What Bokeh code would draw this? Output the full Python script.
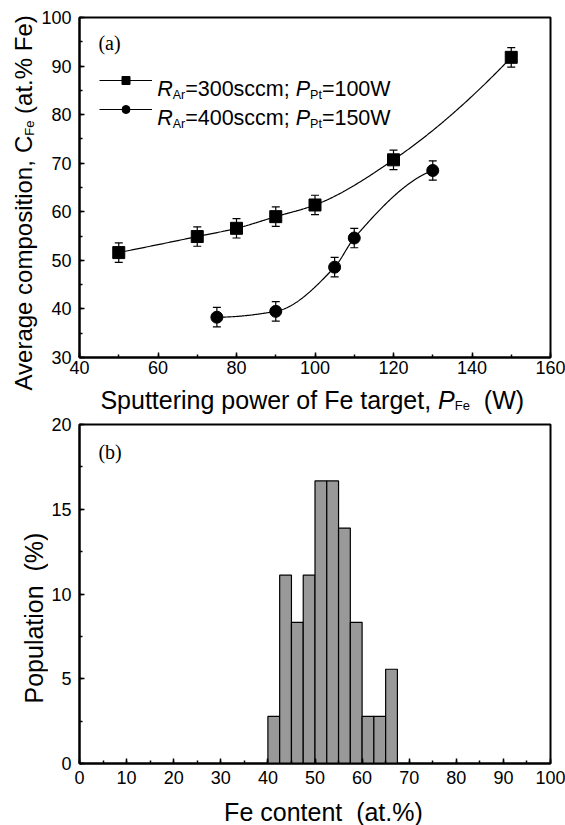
import numpy as np
from bokeh.plotting import figure
from bokeh.models import (ColumnDataSource, Whisker, Label, Legend, LegendItem,
                          TeeHead, Range1d, FixedTicker)
from bokeh.layouts import column, row
from bokeh.embed import file_html
from bokeh.resources import INLINE

# ---------------- data: panel (a) ----------------
power_a = [50, 70, 80, 90, 100, 120, 150]
comp_a = [51.6, 54.9, 56.6, 59.0, 61.4, 70.7, 91.8]
err_a = [2.0, 2.0, 2.0, 2.0, 2.0, 2.0, 2.0]

power_b = [75, 90, 105, 110, 130]
comp_b = [38.3, 39.5, 48.6, 54.6, 68.5]
err_b = [2.0, 2.0, 2.0, 2.0, 2.0]

xticks_a = [40, 60, 80, 100, 120, 140, 160]
yticks_a = [30, 40, 50, 60, 70, 80, 90, 100]

# ---------------- data: panel (b) ----------------
bin_edges = [40, 42.5, 45, 47.5, 50, 52.5, 55, 57.5, 60, 62.5, 65, 67.5]
population = [2.78, 11.11, 8.33, 11.11, 16.67, 16.67, 13.89, 8.33, 2.78, 2.78, 5.56]

xticks_b = [0, 10, 20, 30, 40, 50, 60, 70, 80, 90, 100]
yticks_b = [0, 5, 10, 15, 20]

SANS = "Liberation Sans"
SERIF = "Liberation Serif"

W_ARIAL = {' ': 278, '\u00a0': 278, '(': 333, ')': 333, '%': 889, '.': 278, ',': 278,
           ';': 278, '=': 584, 'A': 667, 'C': 722, 'F': 611, 'P': 667, 'R': 722,
           'S': 667, 'W': 944, 'a': 556, 'c': 500, 'e': 556, 'f': 278, 'g': 556,
           'i': 222, 'l': 222, 'm': 833, 'n': 556, 'o': 556, 'p': 556, 'r': 333,
           's': 500, 't': 278, 'u': 556, 'v': 500, 'w': 722}


def text_width(s, size):
    return sum(W_ARIAL.get(c, 556) for c in s) * size / 1000.0


def pchip(x, y, n=300):
    x = np.asarray(x, float)
    y = np.asarray(y, float)
    h = np.diff(x)
    d = np.diff(y) / h
    m = np.zeros_like(y)
    for k in range(1, len(x) - 1):
        if d[k - 1] * d[k] > 0:
            w1 = 2 * h[k] + h[k - 1]
            w2 = h[k] + 2 * h[k - 1]
            m[k] = (w1 + w2) / (w1 / d[k - 1] + w2 / d[k])

    def end(h0, h1, d0, d1):
        mm = ((2 * h0 + h1) * d0 - h0 * d1) / (h0 + h1)
        if np.sign(mm) != np.sign(d0):
            mm = 0.0
        elif np.sign(d0) != np.sign(d1) and abs(mm) > abs(3 * d0):
            mm = 3 * d0
        return mm

    m[0] = end(h[0], h[1], d[0], d[1])
    m[-1] = end(h[-1], h[-2], d[-1], d[-2])
    xs = np.linspace(x[0], x[-1], n)
    idx = np.clip(np.searchsorted(x, xs) - 1, 0, len(h) - 1)
    t = (xs - x[idx]) / h[idx]
    h00 = 2 * t**3 - 3 * t**2 + 1
    h10 = t**3 - 2 * t**2 + t
    h01 = -2 * t**3 + 3 * t**2
    h11 = t**3 - t**2
    ys = h00 * y[idx] + h10 * h[idx] * m[idx] + h01 * y[idx + 1] + h11 * h[idx] * m[idx + 1]
    return xs, ys


def style_axes(p, standoff_x, standoff_y):
    p.grid.visible = False
    p.outline_line_color = "black"
    p.outline_line_width = 2
    p.background_fill_color = "white"
    p.border_fill_color = "white"
    for ax in (p.xaxis[0], p.yaxis[0]):
        ax.axis_line_width = 2
        ax.axis_line_color = "black"
        ax.major_tick_in = 5
        ax.major_tick_out = 0
        ax.minor_tick_in = 3
        ax.minor_tick_out = 0
        ax.major_tick_line_width = 1.5
        ax.minor_tick_line_width = 1.5
        ax.major_tick_line_color = "black"
        ax.minor_tick_line_color = "black"
        ax.major_label_text_font = SANS
        ax.major_label_text_font_size = "18px"
        ax.major_label_text_color = "black"
        ax.axis_label = None
    p.xaxis[0].major_label_standoff = standoff_x
    p.yaxis[0].major_label_standoff = standoff_y


def text_fig(w, h, xr=None, bl=0, br=0):
    f = figure(width=w, height=h, output_backend="svg", toolbar_location=None,
               title=None,
               x_range=Range1d(*(xr if xr else (0, w))), y_range=Range1d(0, h),
               x_axis_location=None, y_axis_location=None, min_border=0,
               min_border_left=bl, min_border_right=br,
               min_border_top=0, min_border_bottom=0)
    f.grid.visible = False
    f.outline_line_color = None
    f.background_fill_color = "white"
    f.border_fill_color = "white"
    return f


def add_text(p, x, y, text, size, italic=False, angle=0.0, xo=0.0, yo=0.0,
             font=SANS, align="left"):
    p.add_layout(Label(x=x, y=y, text=text, text_font=font,
                       text_font_size=f"{size}px",
                       text_font_style="italic" if italic else "normal",
                       angle=angle, x_offset=xo, y_offset=yo,
                       text_align=align, text_baseline="alphabetic",
                       text_color="black"))


def rich_h(p, x, y, pieces):
    off = 0.0
    for txt, size, italic, drop in pieces:
        add_text(p, x, y, txt, size, italic, xo=off, yo=-drop)
        off += text_width(txt, size)


def rich_v(p, x, y, pieces):
    off = 0.0
    for txt, size, italic, drop in pieces:
        add_text(p, x, y, txt, size, italic, angle=np.pi / 2, xo=drop, yo=off)
        off += text_width(txt, size)


# page geometry (px, page origin = canvas origin)
W_PAGE, H_PAGE = 565, 825
FL, FR = 77, 550
T1, B1 = 17, 357
T2, B2 = 424, 763
TOP_H = 414            # height of the upper block

# ================= panel (a) =================
A_W = 38
P1X, P1W, P1H = A_W, W_PAGE - A_W, 384
p1 = figure(width=P1W, height=P1H, output_backend="svg", toolbar_location=None,
            title=None,
            x_range=Range1d(40, 160), y_range=Range1d(30, 100),
            min_border_left=FL - P1X, min_border_right=W_PAGE - FR,
            min_border_top=T1, min_border_bottom=P1H - B1)
style_axes(p1, 3, 8)
p1.xaxis[0].ticker = FixedTicker(ticks=xticks_a, minor_ticks=list(range(40, 161, 10)))
p1.yaxis[0].ticker = FixedTicker(ticks=yticks_a, minor_ticks=list(range(30, 101, 5)))


def X1(px):
    return 40 + (px - FL) * 120.0 / (FR - FL)


def Y1(py):
    return 100 - (py - T1) * 70.0 / (B1 - T1)


xs_a, ys_a = pchip(power_a, comp_a)
xs_b, ys_b = pchip(power_b, comp_b)
la = p1.line(xs_a, ys_a, line_color="black", line_width=1.2)
lb = p1.line(xs_b, ys_b, line_color="black", line_width=1.2)

src_a = ColumnDataSource(dict(x=power_a, y=comp_a,
                              lo=[c - e for c, e in zip(comp_a, err_a)],
                              hi=[c + e for c, e in zip(comp_a, err_a)]))
src_b = ColumnDataSource(dict(x=power_b, y=comp_b,
                              lo=[c - e for c, e in zip(comp_b, err_b)],
                              hi=[c + e for c, e in zip(comp_b, err_b)]))
for src in (src_a, src_b):
    p1.add_layout(Whisker(source=src, base="x", upper="hi", lower="lo", dimension="height",
                          line_color="black", line_width=1.2,
                          upper_head=TeeHead(size=8, line_color="black", line_width=1.2),
                          lower_head=TeeHead(size=8, line_color="black", line_width=1.2)))
sa = p1.scatter("x", "y", source=src_a, marker="square", size=12,
                fill_color="black", line_color="black")
sb = p1.scatter("x", "y", source=src_b, marker="circle", size=12,
                fill_color="black", line_color="black")

legend = Legend(items=[LegendItem(label=" ", renderers=[la, sa]),
                       LegendItem(label=" ", renderers=[lb, sb])],
                location=(97 - FL, B1 - 119),
                glyph_width=53, glyph_height=20, spacing=9, padding=0, margin=0,
                label_standoff=0, label_width=0, label_height=20,
                label_text_font_size="2px", border_line_color=None,
                background_fill_alpha=0)
p1.add_layout(legend)

LG = 21.5
SUB = 12.5
for row_y, t1, t2 in ((88, "=300sccm; ", "=100W"), (117, "=400sccm; ", "=150W")):
    rich_h(p1, X1(155), Y1(row_y), [("R", LG, True, 0), ("Ar", SUB, False, 6),
                                    (t1, LG, False, 0), ("P", LG, True, 0),
                                    ("Pt", SUB, False, 6), (t2, LG, False, 0)])

add_text(p1, X1(96), Y1(42), "(a)", 20, font=SERIF)

AX = 25

# vertical label strip left of panel (a)
figA = text_fig(A_W, TOP_H)
rich_v(figA, 23, TOP_H - 390, [("Average composition, ", 24, False, 0),
                               ("C", 24, False, 0), ("Fe", 13, False, 6),
                               ("\u00a0(at.% Fe)", 24, False, 0)])

# horizontal label strip under panel (a), frame aligned with panel (a)
B_H = TOP_H - P1H
figB = text_fig(P1W, B_H, xr=(40, 160), bl=FL - P1X, br=W_PAGE - FR)
rich_h(figB, X1(98), TOP_H - 399.5, [("Sputtering power of Fe target, ", AX, False, 0),
                                     ("P", AX, True, 0), ("Fe", 13, False, 5),
                                     ("\u00a0\u00a0(W)", AX, False, 0)])

# ================= panel (b) =================
C_W = 48
BOT_H = H_PAGE - TOP_H
P2X, P2W, P2H = C_W, W_PAGE - C_W, 380
p2 = figure(width=P2W, height=P2H, output_backend="svg", toolbar_location=None,
            title=None,
            x_range=Range1d(0, 100), y_range=Range1d(0, 20),
            min_border_left=FL - P2X, min_border_right=W_PAGE - FR,
            min_border_top=T2 - TOP_H, min_border_bottom=TOP_H + P2H - B2)
style_axes(p2, 7, 8)
p2.xaxis[0].ticker = FixedTicker(ticks=xticks_b, minor_ticks=list(range(0, 101, 5)))
p2.yaxis[0].ticker = FixedTicker(ticks=yticks_b,
                                 minor_ticks=[0, 2.5, 5, 7.5, 10, 12.5, 15, 17.5, 20])


def X2(px):
    return (px - FL) * 100.0 / (FR - FL)


def Y2(py):
    return 20 - (py - T2) * 20.0 / (B2 - T2)


src_h = ColumnDataSource(dict(left=bin_edges[:-1], right=bin_edges[1:],
                              top=population, bottom=[0] * len(population)))
p2.quad(left="left", right="right", top="top", bottom="bottom", source=src_h,
        fill_color="#999999", line_color="black", line_width=1.2)

add_text(p2, X2(96), Y2(451), "(b)", 20, font=SERIF)

figC = text_fig(C_W, BOT_H)
rich_v(figC, 33, H_PAGE - 703, [("Population\u00a0\u00a0(%)", AX, False, 0)])

D_H = BOT_H - P2H
figD = text_fig(P2W, D_H, xr=(0, 100), bl=FL - P2X, br=W_PAGE - FR)
add_text(figD, X2(322), H_PAGE - 811, "Fe content\u00a0\u00a0(at.%)", AX, align="center")

top_block = row(figA, column(p1, figB, spacing=0), spacing=0)
bottom_block = row(figC, column(p2, figD, spacing=0), spacing=0)
layout = column(top_block, bottom_block, spacing=0)
open("out.html", "w").write(file_html(layout, INLINE))
